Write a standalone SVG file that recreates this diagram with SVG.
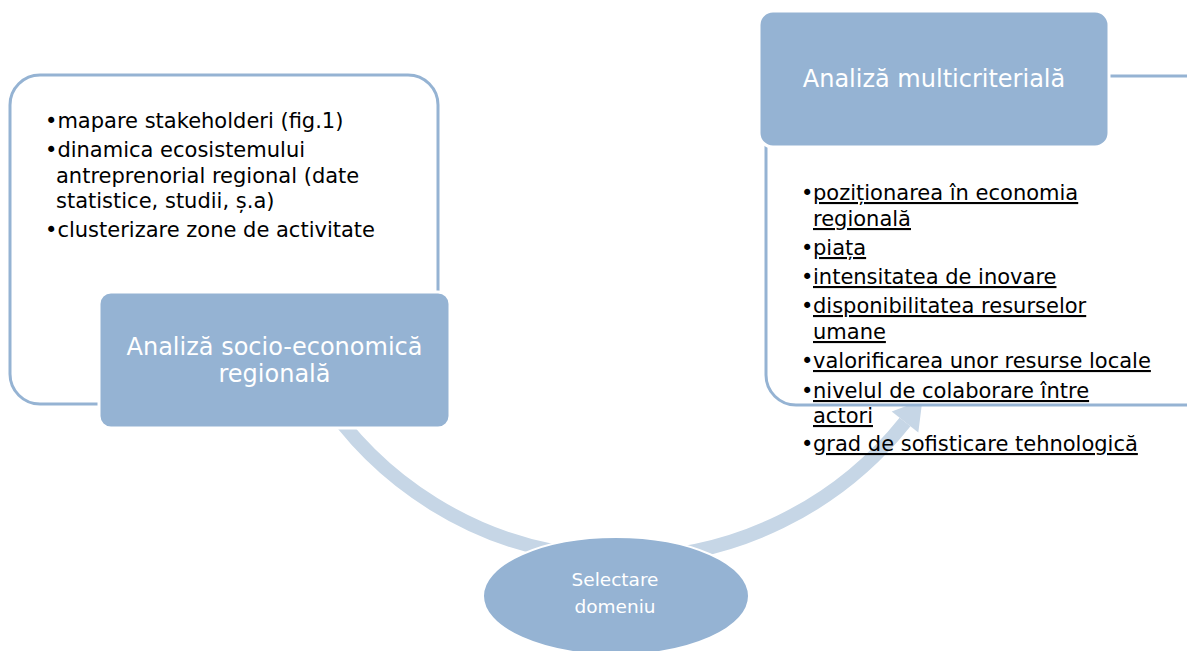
<svg xmlns="http://www.w3.org/2000/svg" width="1187" height="651" viewBox="0 0 1187 651">
<style>
.outline{fill:#ffffff;stroke:#95b3d3;stroke-width:3}
.filled{fill:#95b3d3;stroke:#ffffff;stroke-width:3}
.title{font-family:"DejaVu Sans",Verdana,sans-serif;font-size:24px;fill:#ffffff;text-anchor:middle}
.small{font-family:"DejaVu Sans",Verdana,sans-serif;font-size:18.5px;fill:#ffffff;text-anchor:middle}
.list{font-family:"DejaVu Sans",Verdana,sans-serif;font-size:21px;fill:#000000}
.u{text-decoration:underline}
.band{fill:none;stroke:#c6d6e6;stroke-width:14}
</style>
<rect width="1187" height="651" fill="#ffffff"/>
<g id="connectors">
<path class="band" d="M320,392 A360,360 0 0 0 905,422"/>
<polygon points="918.3,432.6 891.7,411.4 922.4,400.1" fill="#c6d6e6"/>
</g>
<g id="socio-economica">
<rect class="outline" x="10" y="75" width="428" height="329" rx="30"/>
<text class="list" x="45" y="128">•mapare stakeholderi (fig.1)</text>
<text class="list" x="45" y="157">•dinamica ecosistemului</text>
<text class="list" x="56" y="183">antreprenorial regional (date</text>
<text class="list" x="56" y="208">statistice, studii, ș.a)</text>
<text class="list" x="45" y="237">•clusterizare zone de activitate</text>
<rect class="filled" x="99" y="292" width="351" height="136" rx="12"/>
<text class="title" x="274.5" y="355">Analiză socio-economică</text>
<text class="title" x="274.5" y="382">regională</text>
</g>
<g id="multicriteriala">
<rect class="outline" x="766" y="76" width="450" height="329" rx="30"/>
<rect class="filled" x="759" y="11" width="350" height="136" rx="14"/>
<text class="title" x="934" y="87">Analiză multicriterială</text>
<g class="list">
<text x="801" y="200">•</text><text class="u" x="813" y="200">poziționarea în economia</text>
<text class="u" x="813" y="226">regională</text>
<text x="801" y="255">•</text><text class="u" x="813" y="255">piața</text>
<text x="801" y="284">•</text><text class="u" x="813" y="284">intensitatea de inovare</text>
<text x="801" y="313">•</text><text class="u" x="813" y="313">disponibilitatea resurselor</text>
<text class="u" x="813" y="339">umane</text>
<text x="801" y="368">•</text><text class="u" x="813" y="368">valorificarea unor resurse locale</text>
<text x="801" y="398">•</text><text class="u" x="813" y="398">nivelul de colaborare între</text>
<text class="u" x="813" y="423">actori</text>
<text x="801" y="451">•</text><text class="u" x="813" y="451">grad de sofisticare tehnologică</text>
</g>
</g>
<g id="selectare">
<ellipse cx="616" cy="596" rx="133" ry="59" fill="#95b3d3" stroke="#ffffff" stroke-width="2"/>
<text class="small" x="615" y="586">Selectare</text>
<text class="small" x="615" y="613">domeniu</text>
</g>
</svg>
